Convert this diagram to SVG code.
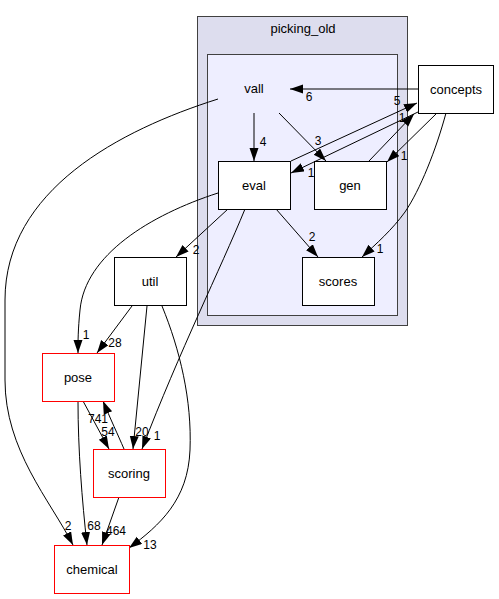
<svg xmlns="http://www.w3.org/2000/svg" width="499" height="599" viewBox="0 0 499 599">
<style>
text{font-family:"Liberation Sans",Arial,sans-serif;fill:#000}
.n{font-size:13px;text-anchor:middle}
.l{font-size:12px;text-anchor:middle}
.box{fill:#fff;stroke:#000;stroke-width:1}
.red{fill:#fff;stroke:#ff0000;stroke-width:1}
.e{fill:none;stroke:#000;stroke-width:1;marker-end:url(#ah)}
</style>
<defs>
<marker id="ah" markerUnits="userSpaceOnUse" markerWidth="14" markerHeight="10" refX="13" refY="4.5" orient="auto">
<path d="M0,0 L13,4.5 L0,9 z" fill="#000"/>
</marker>
</defs>
<rect width="499" height="599" fill="#fff"/>
<g id="cluster_picking_old">
<rect x="197.5" y="16.5" width="210" height="309" fill="#ddddee" stroke="#404040"/>
<text class="n" x="303" y="33">picking_old</text>
</g>
<g id="cluster_vall_dir">
<rect x="207.5" y="54.5" width="190" height="261" fill="#eeeeff" stroke="#404040"/>
</g>
<g id="connectors">
<path class="e" d="M418,89 L290,89"/>
<text class="l" x="309" y="101">6</text>
<path class="e" d="M254,113 L254,161"/>
<text class="l" x="263" y="146">4</text>
<path class="e" d="M279,113 L326,161"/>
<text class="l" x="318" y="145">3</text>
<path class="e" d="M291,161 L417,103"/>
<text class="l" x="397" y="105">5</text>
<path class="e" d="M418,112 L291,173"/>
<text class="l" x="311" y="177">1</text>
<path class="e" d="M369,161 L414,114"/>
<text class="l" x="402" y="122">1</text>
<path class="e" d="M437,113 L387,162"/>
<text class="l" x="404" y="160">1</text>
<path class="e" d="M446,113 C436,150 420,190 405,212 C392,230 376,244 362,257"/>
<text class="l" x="380" y="253">1</text>
<path class="e" d="M276,209 L318,257"/>
<text class="l" x="312" y="241">2</text>
<path class="e" d="M228,209 L176,257"/>
<text class="l" x="196" y="254">2</text>
<path class="e" d="M218,193 C150,215 85,255 80,310 C78,330 78,340 78,353"/>
<text class="l" x="86" y="339">1</text>
<path class="e" d="M245,209 C220,270 180,350 142,449"/>
<text class="l" x="157" y="440">1</text>
<path class="e" d="M218,99 C120,130 5,190 5,300 L5,380 C5,450 50,500 73,545"/>
<text class="l" x="68" y="530">2</text>
<path class="e" d="M132,306 L97,353"/>
<text class="l" x="115" y="347">28</text>
<path class="e" d="M147,306 L133,449"/>
<text class="l" x="142" y="436">20</text>
<path class="e" d="M162,306 C180,350 192,400 190,450 C188,500 160,525 129,548"/>
<text class="l" x="150" y="549">13</text>
<path class="e" d="M83,401 L109,449"/>
<text class="l" x="108" y="436">54</text>
<path class="e" d="M124,449 C118,435 110,418 103,401"/>
<text class="l" x="98" y="423">741</text>
<path class="e" d="M78,401 C78,450 82,500 87,545"/>
<text class="l" x="94" y="530">68</text>
<path class="e" d="M119,497 L102,545"/>
<text class="l" x="116" y="535">464</text>
</g>
<g id="node_vall">
<text class="n" x="254" y="93">vall</text>
</g>
<g id="node_eval">
<rect class="box" x="218.5" y="161.5" width="72" height="48"/>
<text class="n" x="254" y="190">eval</text>
</g>
<g id="node_gen">
<rect class="box" x="314.5" y="161.5" width="72" height="48"/>
<text class="n" x="350" y="190">gen</text>
</g>
<g id="node_scores">
<rect class="box" x="302.5" y="257.5" width="72" height="48"/>
<text class="n" x="338" y="286">scores</text>
</g>
<g id="node_concepts">
<rect class="box" x="418.5" y="65.5" width="75" height="48"/>
<text class="n" x="456" y="94">concepts</text>
</g>
<g id="node_util">
<rect class="box" x="114.5" y="257.5" width="72" height="48"/>
<text class="n" x="150" y="286">util</text>
</g>
<g id="node_pose">
<rect class="red" x="42.5" y="353.5" width="72" height="48" stroke="#ff0000"/>
<text class="n" x="78" y="382">pose</text>
</g>
<g id="node_scoring">
<rect class="red" x="93.5" y="449.5" width="72" height="48" stroke="#ff0000"/>
<text class="n" x="129" y="478">scoring</text>
</g>
<g id="node_chemical">
<rect class="red" x="54.5" y="545.5" width="75" height="48" stroke="#ff0000"/>
<text class="n" x="92" y="574">chemical</text>
</g>
</svg>
